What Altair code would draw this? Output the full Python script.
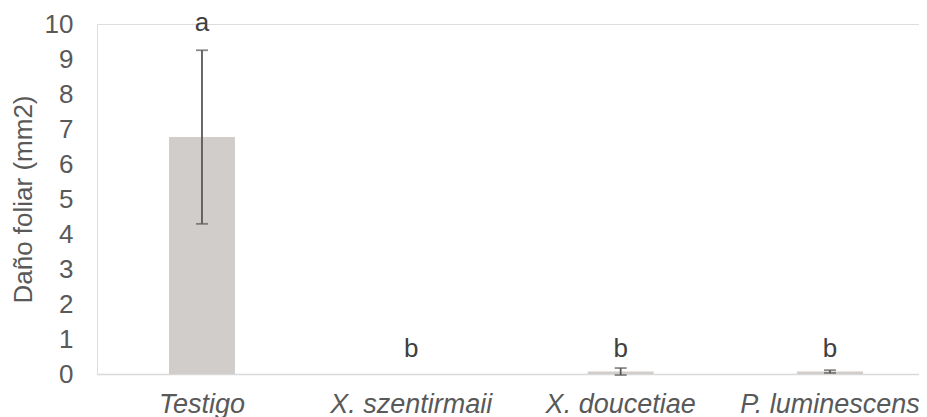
import altair as alt
import pandas as pd

categories = ["Testigo", "X. szentirmaii", "X. doucetiae", "P. luminescens"]
means = [6.77, 0.0, 0.07, 0.07]
errors = [2.48, 0.0, 0.10, 0.04]
letters = ["a", "b", "b", "b"]
letter_y = [9.81, 0.48, 0.48, 0.48]

df = pd.DataFrame({
    "cat": categories,
    "mean": means,
    "err": errors,
    "letter": letters,
    "ly": letter_y,
})
df["lo"] = df["mean"] - df["err"]
df["hi"] = df["mean"] + df["err"]

FONT = "Liberation Sans"
FS = 26

x_axis = alt.Axis(
    title=None,
    labelAngle=0,
    labelFont=FONT,
    labelFontSize=27,
    labelFontStyle="italic",
    labelColor="#595959",
    labelPadding=17,
    ticks=False,
    domainColor="#d9d9d9",
    domainWidth=1.3,
    grid=False,
)
x_scale = alt.Scale(range=[0, 838], paddingInner=0.685, paddingOuter=0.344)

y_scale = alt.Scale(domain=[0, 10], nice=False, zero=True)
y_axis = alt.Axis(
    title="Daño foliar (mm2)",
    titleFont=FONT,
    titleFontSize=FS,
    titleFontWeight="normal",
    titleColor="#595959",
    titleX=-74,
    titleY=175,
    titleAngle=-90,
    titleAlign="center",
    titleBaseline="middle",
    labelFont=FONT,
    labelFontSize=FS,
    labelColor="#595959",
    labelPadding=24,
    labelOverlap=False,
    values=list(range(0, 11)),
    domain=False,
    ticks=False,
    grid=False,
)


def X():
    return alt.X("cat:N", sort=categories, scale=x_scale, axis=x_axis)


def Y(field):
    return alt.Y(field, scale=y_scale, axis=y_axis)


base = alt.Chart(df)

bars = base.mark_bar(color="#d0cdca").encode(x=X(), y=Y("mean:Q"))

err_df = base.transform_filter("datum.err > 0")

stems = err_df.mark_rule(color="#595959", strokeWidth=1.8).encode(
    x=X(), y=Y("lo:Q"), y2="hi:Q"
)
caps_hi = err_df.mark_tick(color="#595959", size=12, thickness=1.8, orient="horizontal").encode(
    x=X(), y=Y("hi:Q")
)
caps_lo = err_df.mark_tick(color="#595959", size=12, thickness=1.8, orient="horizontal").encode(
    x=X(), y=Y("lo:Q")
)

labels = base.mark_text(
    font=FONT, fontSize=FS, color="#404040", baseline="alphabetic", align="center"
).encode(x=X(), y=Y("ly:Q"), text="letter:N")

chart = alt.layer(bars, stems, caps_hi, caps_lo, labels).properties(
    width=822,
    height=350,
    autosize=alt.AutoSizeParams(type="none"),
    padding={"left": 89, "top": 16, "right": 0, "bottom": 45},
).configure_view(stroke=None).configure(background="white")

chart.save("out.html", embed_options={"renderer": "svg", "actions": False})
